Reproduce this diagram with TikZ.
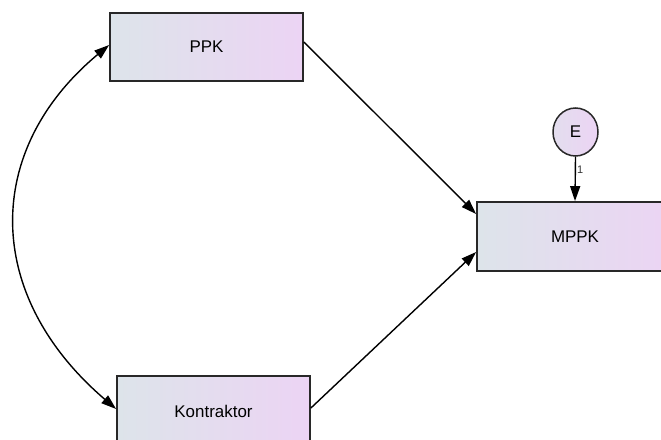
\documentclass[tikz,border=0pt]{standalone}
\usepackage{fontspec}
\setmainfont{Liberation Sans}
\usetikzlibrary{arrows.meta,shapes.geometric}

\definecolor{boxleft}{RGB}{221,228,234}
\definecolor{boxright}{RGB}{236,212,244}
\definecolor{edgegray}{RGB}{40,40,40}

\tikzset{
  observed/.style={draw=edgegray, line width=1.8bp, rectangle,
    left color=boxleft, right color=boxright, inner sep=0pt,
    font=\fontsize{17}{20}\selectfont},
  latent/.style={draw=edgegray, line width=1.5bp, ellipse, inner sep=0pt,
    minimum width=45bp, minimum height=48bp,
    left color=boxleft!60!boxright, right color=boxright,
    font=\fontsize{17}{20}\selectfont},
  regpath/.style={draw=black, line width=1.4bp,
    -{Triangle[length=15bp, width=10bp]}},
  covar/.style={draw=black, line width=1.4bp,
    {Triangle[length=15bp, width=10bp]}-{Triangle[length=15bp, width=10bp]}},
  weight/.style={font=\fontsize{11}{13}\selectfont, text=black!80, inner sep=1pt}
}

\begin{document}
\begin{tikzpicture}[x=1bp, y=-1bp]
  \useasboundingbox (0,0) rectangle (661,440);

  % observed variables
  \node[observed, minimum width=193bp, minimum height=68bp] (ppk) at (206.5,47) {PPK};
  \node[observed, minimum width=193bp, minimum height=70bp] (kon) at (213.5,411) {Kontraktor};
  \node[observed, minimum width=196bp, minimum height=69bp] (mppk) at (575,236.5) {MPPK};

  % error term
  \node[latent] (e) at (575.5,132) {E};

  % regression paths
  \draw[regpath] (ppk.east |- 0,42) -- (mppk.west |- 0,214);
  \draw[regpath] (kon.east |- 0,408) -- (mppk.west |- 0,252);
  \draw[regpath] (e.south) -- (mppk.north) node[weight, pos=0.3, right] {1};

  % covariance between the exogenous variables
  \draw[covar] (ppk.west |- 0,45) .. controls (-17,150) and (-17,295) .. (kon.west |- 0,409);
\end{tikzpicture}
\end{document}
